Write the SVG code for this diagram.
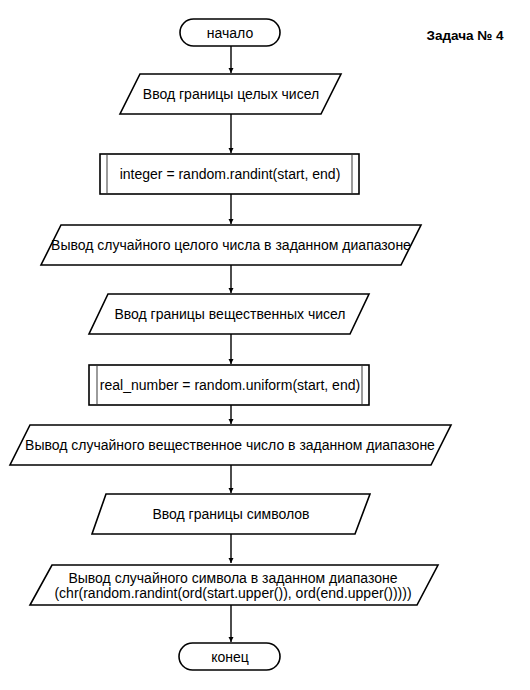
<svg xmlns="http://www.w3.org/2000/svg" width="530" height="690" viewBox="0 0 530 690">
<style>
.s{fill:#fff;stroke:#000;stroke-width:1.6}
.in{stroke:#666;stroke-width:1.3}
.t{font-family:"Liberation Sans",Arial,sans-serif;font-size:14px;fill:#000;text-anchor:middle}
.c{stroke:#000;stroke-width:1.4;fill:none}
</style>
<defs>
<marker id="a" markerWidth="6" markerHeight="6" refX="5" refY="3" orient="auto" markerUnits="userSpaceOnUse">
<path d="M0,0.5 L5,3 L0,5.5 Z" fill="#000"/>
</marker>
</defs>
<rect width="530" height="690" fill="#fff"/>
<g id="connectors">
<line class="c" x1="231" y1="46" x2="231" y2="73" marker-end="url(#a)"/>
<line class="c" x1="231" y1="114" x2="231" y2="153" marker-end="url(#a)"/>
<line class="c" x1="231" y1="194" x2="231" y2="224" marker-end="url(#a)"/>
<line class="c" x1="231" y1="265" x2="231" y2="293" marker-end="url(#a)"/>
<line class="c" x1="231" y1="334" x2="231" y2="364" marker-end="url(#a)"/>
<line class="c" x1="231" y1="405" x2="231" y2="424" marker-end="url(#a)"/>
<line class="c" x1="231" y1="465" x2="231" y2="493" marker-end="url(#a)"/>
<line class="c" x1="231" y1="534" x2="231" y2="563" marker-end="url(#a)"/>
<line class="c" x1="231" y1="605" x2="231" y2="642" marker-end="url(#a)"/>
</g>
<g id="start">
<rect class="s" x="180" y="19" width="100" height="27" rx="13.5"/>
<text class="t" x="230" y="37.5">начало</text>
</g>
<g id="title">
<text x="465" y="40" style="font-family:'Liberation Sans',Arial,sans-serif;font-size:13.5px;font-weight:bold;text-anchor:middle">Задача № 4</text>
</g>
<g id="input1">
<polygon class="s" points="140,74 341,74 321,114 120,114"/>
<text class="t" x="231" y="99">Ввод границы целых чисел</text>
</g>
<g id="proc1">
<rect class="s" x="100" y="154" width="259" height="40"/>
<line class="in" x1="107" y1="155" x2="107" y2="193"/>
<line class="in" x1="352" y1="155" x2="352" y2="193"/>
<text class="t" x="230" y="179">integer = random.randint(start, end)</text>
</g>
<g id="output1">
<polygon class="s" points="61,225 421,225 401,265 41,265"/>
<text class="t" x="231" y="250">Вывод случайного целого числа в заданном диапазоне</text>
</g>
<g id="input2">
<polygon class="s" points="108,294 369,294 350,334 89,334"/>
<text class="t" x="230" y="319">Ввод границы вещественных чисел</text>
</g>
<g id="proc2">
<rect class="s" x="89" y="365" width="280" height="40"/>
<line class="in" x1="97" y1="366" x2="97" y2="404"/>
<line class="in" x1="362" y1="366" x2="362" y2="404"/>
<text class="t" x="230" y="390">real_number = random.uniform(start, end)</text>
</g>
<g id="output2">
<polygon class="s" points="30,425 451,425 431,465 10,465"/>
<text class="t" x="230" y="450">Вывод случайного вещественное число в заданном диапазоне</text>
</g>
<g id="input3">
<polygon class="s" points="106,494 370,494 355,534 92,534"/>
<text class="t" x="231" y="519">Ввод границы символов</text>
</g>
<g id="output3">
<polygon class="s" points="52,565 438,565 417,605 30,605"/>
<text class="t" x="233" y="583">Вывод случайного символа в заданном диапазоне</text>
<text class="t" x="233" y="597.5">(chr(random.randint(ord(start.upper()), ord(end.upper()))))</text>
</g>
<g id="end">
<rect class="s" x="179" y="643" width="101" height="27" rx="13.5"/>
<text class="t" x="230" y="661.5">конец</text>
</g>
</svg>
